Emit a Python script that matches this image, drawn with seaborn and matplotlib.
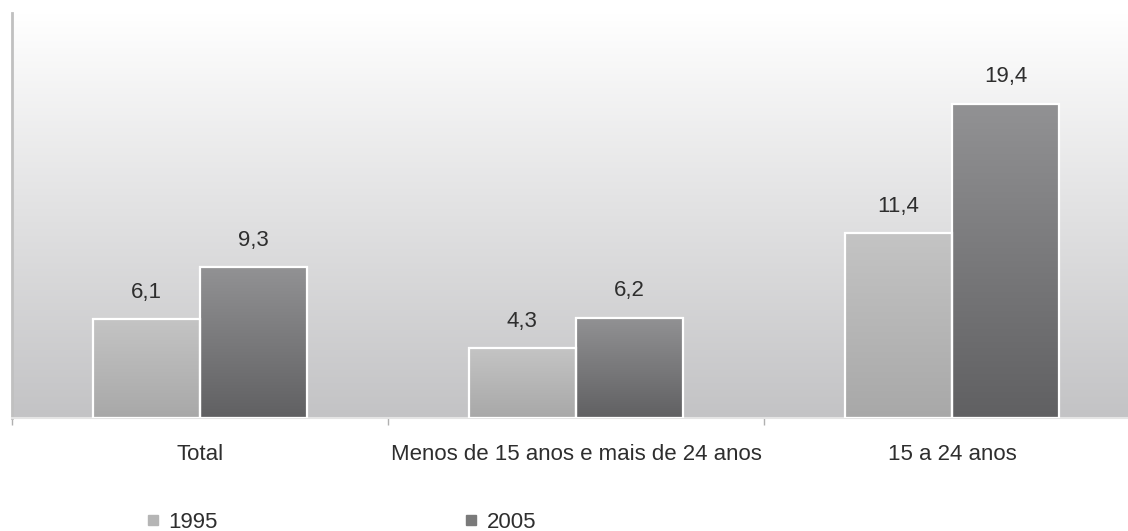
import numpy as np
import pandas as pd
import matplotlib
matplotlib.use("Agg")
import matplotlib.pyplot as plt
from matplotlib.colors import LinearSegmentedColormap
from matplotlib.lines import Line2D
import seaborn as sns

categories = ["Total", "Menos de 15 anos e mais de 24 anos", "15 a 24 anos"]
years = ["1995", "2005"]
values_1995 = [6.1, 4.3, 11.4]
values_2005 = [9.3, 6.2, 19.4]
value_labels_1995 = ["6,1", "4,3", "11,4"]
value_labels_2005 = ["9,3", "6,2", "19,4"]

df = pd.DataFrame({
    "cat": categories * 2,
    "ano": [years[0]] * 3 + [years[1]] * 3,
    "val": values_1995 + values_2005,
})

sns.set_theme(style="white")
plt.rcParams["font.family"] = ["Liberation Sans", "DejaVu Sans"]

FS = 16
TXT = "#2e2e2e"
W, H = 1128, 531
fig = plt.figure(figsize=(W / 100, H / 100), dpi=100)
ax = fig.add_axes([12 / W, 1 - 418 / H, 1 - 12 / W, (418 - 13) / H])

sns.barplot(data=df, x="cat", y="val", hue="ano", order=categories,
            hue_order=years, palette=["#b8b8b8", "#7a7a7a"], width=0.57,
            edgecolor="white", linewidth=1.6, legend=False, ax=ax, zorder=3)

xlim = (-0.5, 2.468)
ylim = (0, 25)

# background gradient
bg = LinearSegmentedColormap.from_list("bg", ["#c3c3c5", "#ffffff"])
grad = np.linspace(0, 1, 256).reshape(-1, 1)
ax.imshow(grad, cmap=bg, origin="lower", aspect="auto",
          extent=(xlim[0], xlim[1], ylim[0], ylim[1]), zorder=0)

# bar gradients
cmaps = {
    "1995": LinearSegmentedColormap.from_list("c95", ["#a8a8a8", "#c4c4c4"]),
    "2005": LinearSegmentedColormap.from_list("c05", ["#606062", "#929294"]),
}
labels = value_labels_1995 + value_labels_2005
patches = [p for p in ax.patches if p.get_height() > 0]
for i, p in enumerate(patches):
    yr = years[0] if i < 3 else years[1]
    x0, w, h = p.get_x(), p.get_width(), p.get_height()
    im = ax.imshow(grad, cmap=cmaps[yr], origin="lower", aspect="auto",
                   extent=(x0, x0 + w, 0, h), zorder=2.5)
    im.set_clip_path(p)
    p.set_facecolor("none")
    p.set_zorder(4)
    ax.annotate(labels[i], (x0 + w / 2, h), xytext=(0, 12),
                textcoords="offset points", ha="center", va="bottom",
                fontsize=FS, color=TXT)

ax.set_xlim(*xlim)
ax.set_ylim(*ylim)
ax.set_yticks([])
ax.set_xlabel("")
ax.set_ylabel("")
ax.set_xticks(range(3))
ax.set_xticklabels(categories, fontsize=FS, color=TXT)
ax.tick_params(axis="x", which="major", length=0, pad=19)
ax.set_xticks([-0.5, 0.5, 1.5], minor=True)
ax.tick_params(axis="x", which="minor", length=5, width=1, color="#b0b0b0",
               direction="out", bottom=True)

for s in ["top", "right"]:
    ax.spines[s].set_visible(False)
ax.spines["left"].set_color("#c0c0c0")
ax.spines["left"].set_linewidth(2)
ax.spines["bottom"].set_color("#e4e4e4")
ax.spines["bottom"].set_linewidth(1.5)

handles = [Line2D([], [], marker="s", linestyle="none", markersize=7.5,
                  markerfacecolor=c, markeredgecolor=c)
           for c in ["#b5b5b5", "#7a7a7a"]]
fig.legend(handles, years, loc="center left", bbox_to_anchor=(144 / W, 9 / H),
           ncol=2, frameon=False, fontsize=FS, handlelength=0.8,
           handletextpad=0.3, columnspacing=11.0, labelcolor=TXT,
           borderaxespad=0, borderpad=0)

fig.savefig("out.png", dpi=100)
